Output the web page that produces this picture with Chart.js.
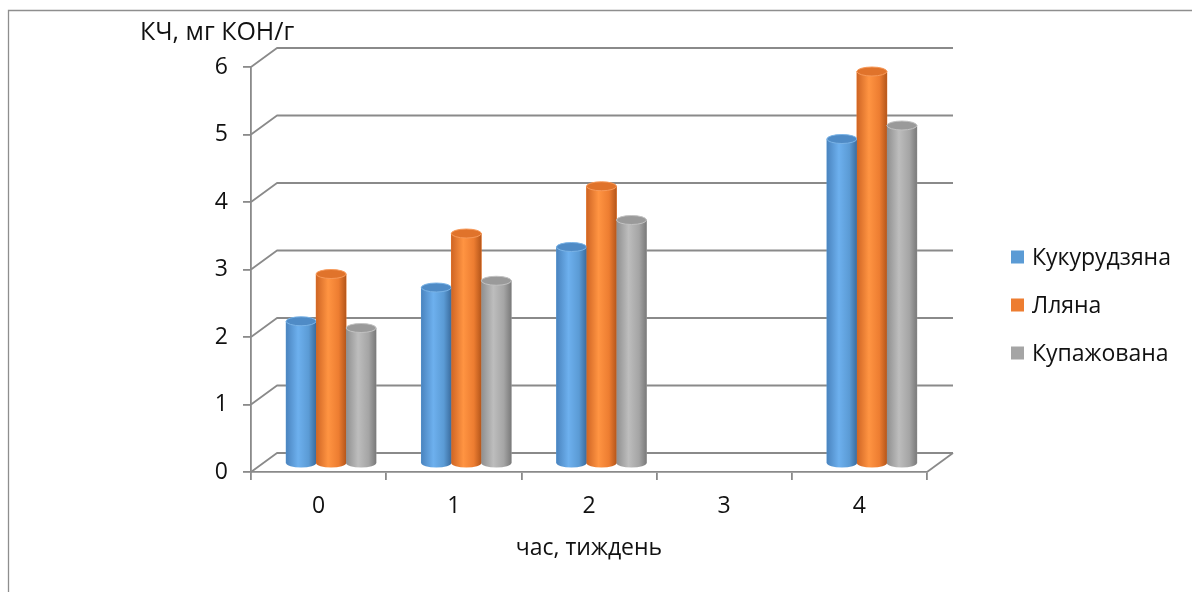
<!DOCTYPE html>
<html><head><meta charset="utf-8">
<script src="https://cdn.jsdelivr.net/npm/chart.js@4"></script>
<style>html,body{margin:0;padding:0;background:#fff;overflow:hidden}canvas{display:block}</style>
</head><body>
<canvas id="c" width="1192" height="592"></canvas>
<script>
// ---- data ----
const categories = ['0', '1', '2', '3', '4'];
const kukurudzyana = [2.1, 2.6, 3.2, null, 4.8];
const lyana = [2.8, 3.4, 4.1, null, 5.8];
const kupazhovana = [2.0, 2.7, 3.6, null, 5.0];
const seriesNames = ['Кукурудзяна', 'Лляна', 'Купажована'];
const yMin = 0, yMax = 6, yStep = 1;
const yTitle = 'КЧ, мг КОН/г';
const xTitle = 'час, тиждень';

// ---- layout / style ----
const FONT = "'Open Sans', 'Noto Sans', sans-serif";
const FS = 23;
const AREA = {left: 251, right: 927, top: 67, bottom: 472};
const W = 1192, H = 592;
const BOX_DX = 26, BOX_DY = -19;     // depth of back wall
const BAR_DX = 12.5, BAR_DY = -9;    // bars sit mid-depth
const LINE = '#8a8a8a';
const TEXT = '#111';
const styles = [
  {base: '#5B9BD5', edgeL: '#4a84bf', light: '#6db0ee', edgeR: '#3b6c9e', cap: '#4f8bc6', rim: '#7ab3e6'},
  {base: '#ED7D31', edgeL: '#cf6524', light: '#ff9442', edgeR: '#b5561a', cap: '#e0732b', rim: '#f79a5a'},
  {base: '#A5A5A5', edgeL: '#8f8f8f', light: '#bdbdbd', edgeR: '#7a7a7a', cap: '#9a9a9a', rim: '#c2c2c2'}
];

const nCat = categories.length;
const catW = (AREA.right - AREA.left) / nCat;
const unitH = (AREA.bottom - AREA.top) / (yMax - yMin);
const xbMin = -0.5 - BAR_DX / catW, xbMax = nCat - 0.5 - BAR_DX / catW;
const ybMin = yMin + BAR_DY / unitH, ybMax = yMax + BAR_DY / unitH;

const toPoints = arr => arr.map((v, i) => ({x: i, y: v}));
const seriesData = [kukurudzyana, lyana, kupazhovana];

const frame3d = {
  id: 'frame3d',
  beforeDraw(chart) {
    const c = chart.ctx;
    c.save();
    c.strokeStyle = '#8e8e8e';
    c.lineWidth = 1.3;
    c.beginPath();
    c.moveTo(8.5, H); c.lineTo(8.5, 10.5); c.lineTo(W, 10.5);
    c.stroke();
    c.restore();
  },
  beforeDatasetsDraw(chart) {
    const c = chart.ctx, y = chart.scales.y, a = chart.chartArea;
    c.save();
    c.strokeStyle = LINE;
    c.lineWidth = 1.8;
    c.lineJoin = 'round';
    y.ticks.forEach(t => {
      const py = y.getPixelForValue(t.value);
      c.beginPath();
      c.moveTo(a.left, py);
      c.lineTo(a.left + BOX_DX, py + BOX_DY);
      c.lineTo(a.right + BOX_DX, py + BOX_DY);
      c.stroke();
    });
    const py0 = y.getPixelForValue(yMin);
    c.beginPath();
    c.moveTo(a.right, py0);
    c.lineTo(a.right + BOX_DX, py0 + BOX_DY);
    c.stroke();
    c.restore();
  },
  afterDatasetsDraw(chart) {
    const c = chart.ctx;
    chart.data.datasets.forEach((ds, di) => {
      const st = styles[di];
      chart.getDatasetMeta(di).data.forEach((el, i) => {
        if (ds.data[i].y === null || ds.data[i].y === undefined) return;
        const {x, y, base, width} = el.getProps(['x', 'y', 'base', 'width'], true);
        const l = x - width / 2, r = x + width / 2, rx = width / 2, ry = 4.5;
        const g = c.createLinearGradient(l, 0, r, 0);
        g.addColorStop(0, st.edgeL);
        g.addColorStop(0.4, st.light);
        g.addColorStop(0.75, st.base);
        g.addColorStop(1, st.edgeR);
        c.save();
        c.fillStyle = g;
        c.beginPath();
        c.moveTo(l, y);
        c.lineTo(l, base);
        c.ellipse(x, base, rx, ry, 0, Math.PI, 0, true);
        c.lineTo(r, y);
        c.closePath();
        c.fill();
        c.beginPath();
        c.ellipse(x, y, rx, ry, 0, 0, Math.PI * 2);
        c.fillStyle = st.cap;
        c.fill();
        c.strokeStyle = st.rim;
        c.lineWidth = 1;
        c.stroke();
        c.restore();
      });
    });
  },
  afterDraw(chart) {
    const c = chart.ctx;
    c.save();
    // y axis title
    c.fillStyle = TEXT;
    c.font = '25px ' + FONT;
    c.textBaseline = 'middle';
    c.textAlign = 'left';
    c.fillText(yTitle, 140, 33);
    // legend
    c.font = FS + 'px ' + FONT;
    const ys = [257, 305, 353];
    chart.data.datasets.forEach((ds, i) => {
      c.fillStyle = ds.backgroundColor;
      c.fillRect(1011, ys[i] - 6.5, 13, 13);
      c.fillStyle = TEXT;
      c.fillText(ds.label, 1032, ys[i] + 1);
    });
    c.restore();
  }
};

new Chart(document.getElementById('c'), {
  type: 'bar',
  data: {
    labels: categories,
    datasets: seriesData.map((arr, i) => ({
      label: seriesNames[i],
      data: toPoints(arr),
      backgroundColor: styles[i].base,
      borderWidth: 0,
      xAxisID: 'xb',
      yAxisID: 'yb',
      barThickness: 30,
      grouped: true
    }))
  },
  options: {
    responsive: false,
    animation: false,
    events: [],
    layout: {padding: {left: AREA.left - 60, right: W - AREA.right, top: AREA.top, bottom: H - AREA.bottom - 100}},
    plugins: {legend: {display: false}, tooltip: {enabled: false}},
    scales: {
      x: {
        type: 'category', position: 'bottom', labels: categories, offset: true,
        grid: {offset: true, drawOnChartArea: false, drawTicks: true, tickLength: 8, color: LINE, lineWidth: 1.8},
        border: {display: true, color: LINE, width: 1.8},
        ticks: {font: {family: FONT, size: FS}, color: TEXT, padding: 13},
        title: {display: true, text: xTitle, font: {family: FONT, size: FS}, color: TEXT, padding: {top: 10, bottom: 10}},
        afterFit(s) { s.height = 100; }
      },
      y: {
        type: 'linear', position: 'left', min: yMin, max: yMax,
        ticks: {stepSize: yStep, font: {family: FONT, size: FS}, color: TEXT, padding: 15},
        grid: {drawOnChartArea: false, drawTicks: true, tickLength: 8, color: LINE, lineWidth: 1.8},
        border: {display: true, color: LINE, width: 1.8},
        afterFit(s) { s.width = 60; }
      },
      xb: {type: 'linear', position: 'bottom', display: false, offset: false, min: xbMin, max: xbMax},
      yb: {type: 'linear', position: 'left', display: false, min: ybMin, max: ybMax}
    }
  },
  plugins: [frame3d]
});
</script>
</body></html>
